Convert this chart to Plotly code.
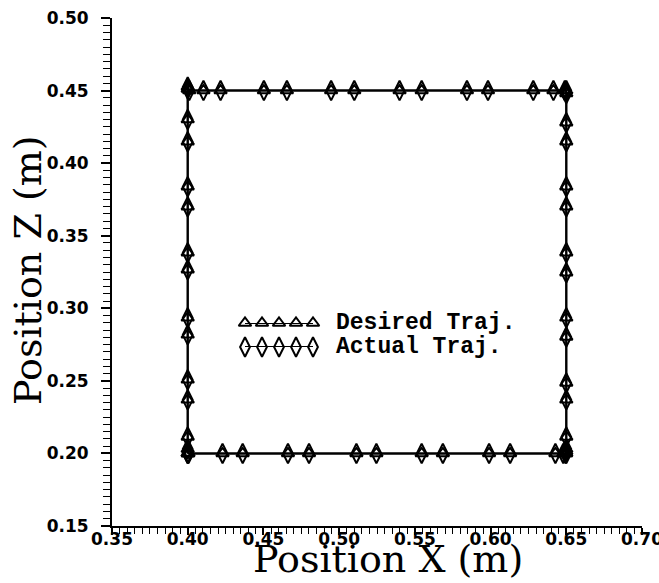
import plotly.graph_objects as go

# Desired trajectory (m): bottom edge -> right edge -> top edge -> left edge
DESIRED_X = [0.4000, 0.4005, 0.4230, 0.4363, 0.4662, 0.4801, 0.5114, 0.5246, 0.5545, 0.5685, 0.5990, 0.6129, 0.6428, 0.6480, 0.6495,
             0.6500, 0.6500, 0.6500, 0.6500, 0.6500, 0.6500, 0.6500, 0.6500, 0.6500, 0.6500, 0.6500, 0.6500, 0.6500, 0.6500, 0.6500,
             0.6500, 0.6490, 0.6415, 0.6282, 0.5983, 0.5844, 0.5545, 0.5399, 0.5100, 0.4947, 0.4655, 0.4503, 0.4217, 0.4104, 0.4010,
             0.4000, 0.4000, 0.4000, 0.4000, 0.4000, 0.4000, 0.4000, 0.4000, 0.4000, 0.4000, 0.4000, 0.4000, 0.4000, 0.4000, 0.4000]
DESIRED_Z = [0.2000, 0.2000, 0.2000, 0.2000, 0.2000, 0.2000, 0.2000, 0.2000, 0.2000, 0.2000, 0.2000, 0.2000, 0.2000, 0.2000, 0.2000,
             0.2000, 0.2015, 0.2030, 0.2114, 0.2369, 0.2486, 0.2803, 0.2934, 0.3245, 0.3383, 0.3700, 0.3838, 0.4148, 0.4279, 0.4480,
             0.4500, 0.4500, 0.4500, 0.4500, 0.4500, 0.4500, 0.4500, 0.4500, 0.4500, 0.4500, 0.4500, 0.4500, 0.4500, 0.4500, 0.4500,
             0.4525, 0.4510, 0.4300, 0.4148, 0.3838, 0.3700, 0.3383, 0.3266, 0.2934, 0.2817, 0.2507, 0.2369, 0.2114, 0.2030, 0.2000]

# Actual trajectory (m)
ACTUAL_X = [0.4000, 0.4005, 0.4230, 0.4363, 0.4662, 0.4801, 0.5114, 0.5246, 0.5545, 0.5685, 0.5990, 0.6129, 0.6428, 0.6480, 0.6495,
            0.6500, 0.6500, 0.6500, 0.6500, 0.6500, 0.6500, 0.6500, 0.6500, 0.6500, 0.6500, 0.6500, 0.6500, 0.6500, 0.6500, 0.6500,
            0.6500, 0.6490, 0.6415, 0.6282, 0.5983, 0.5844, 0.5545, 0.5399, 0.5100, 0.4947, 0.4655, 0.4503, 0.4217, 0.4104, 0.4010,
            0.4000, 0.4000, 0.4000, 0.4000, 0.4000, 0.4000, 0.4000, 0.4000, 0.4000, 0.4000, 0.4000, 0.4000, 0.4000, 0.4000, 0.4000]
ACTUAL_Z = [0.2000, 0.2000, 0.2000, 0.2000, 0.2000, 0.2000, 0.2000, 0.2000, 0.2000, 0.2000, 0.2000, 0.2000, 0.2000, 0.2000, 0.2000,
            0.2000, 0.2015, 0.2030, 0.2114, 0.2369, 0.2486, 0.2803, 0.2934, 0.3245, 0.3383, 0.3700, 0.3838, 0.4148, 0.4279, 0.4480,
            0.4500, 0.4500, 0.4500, 0.4500, 0.4500, 0.4500, 0.4500, 0.4500, 0.4500, 0.4500, 0.4500, 0.4500, 0.4500, 0.4500, 0.4500,
            0.4525, 0.4510, 0.4300, 0.4148, 0.3838, 0.3700, 0.3383, 0.3266, 0.2934, 0.2817, 0.2507, 0.2369, 0.2114, 0.2030, 0.2000]

SERIES_NAMES = ["Desired Traj.", "Actual Traj."]
X_TICKS = [0.35, 0.40, 0.45, 0.50, 0.55, 0.60, 0.65, 0.70]
Z_TICKS = [0.15, 0.20, 0.25, 0.30, 0.35, 0.40, 0.45, 0.50]
LEGEND_KEY_STEPS = [0, 1, 2, 3, 4]

X_TITLE = "Position X (m)"
Z_TITLE = "Position Z (m)"

BLACK = "#000000"
tick_font = dict(family="DejaVu Sans", size=17, color=BLACK, weight="bold")
title_font = dict(family="DejaVu Serif", size=38, color=BLACK)
legend_font = dict(family="Liberation Mono", size=23, color=BLACK, weight="bold")

TRI = dict(symbol="triangle-up-open", size=11, color=BLACK, line=dict(width=2, color=BLACK))
DIA = dict(symbol="diamond-tall-open", size=14, color=BLACK, line=dict(width=2, color=BLACK))
LINE = dict(color=BLACK, width=2)

fig = go.Figure()

fig.add_trace(go.Scatter(
    x=DESIRED_X, y=DESIRED_Z, mode="lines+markers", name=SERIES_NAMES[0],
    line=LINE, marker=TRI, cliponaxis=False, showlegend=False,
))
fig.add_trace(go.Scatter(
    x=ACTUAL_X, y=ACTUAL_Z, mode="lines+markers", name=SERIES_NAMES[1],
    line=LINE, marker=DIA, cliponaxis=False, showlegend=False,
))

# Custom legend keys (five markers on a line, as in the original)
L, R, T, B = 112, 17, 18, 57
W, H = 659, 583
pw, ph = W - L - R, H - T - B
def px_x(p):
    return (p - L) / pw
def px_y(p):
    return 1 - (p - T) / ph

fig.add_trace(go.Scatter(
    x=LEGEND_KEY_STEPS, y=[1] * len(LEGEND_KEY_STEPS), xaxis="x2", yaxis="y2", mode="lines+markers",
    line=LINE, marker=TRI, cliponaxis=False, showlegend=False, hoverinfo="skip",
))
fig.add_trace(go.Scatter(
    x=LEGEND_KEY_STEPS, y=[0] * len(LEGEND_KEY_STEPS), xaxis="x2", yaxis="y2", mode="lines+markers",
    line=LINE, marker=DIA, cliponaxis=False, showlegend=False, hoverinfo="skip",
))

axis_common = dict(
    showgrid=False, zeroline=False, showline=True, linecolor=BLACK, linewidth=2,
    ticks="outside", tickwidth=1.6, tickcolor=BLACK, tickfont=tick_font,
    mirror=False, ticklabeloverflow="allow",
)

fig.update_layout(
    width=W, height=H,
    margin=dict(l=L, r=R, t=T, b=B, autoexpand=False),
    paper_bgcolor="white", plot_bgcolor="white",
    xaxis=dict(range=[0.35, 0.70], tickvals=X_TICKS, ticktext=[f"{v:.2f}" for v in X_TICKS], ticklen=7,
               minor=dict(dtick=0.005, ticklen=6, tickwidth=1.4, tickcolor=BLACK, ticks="outside"),
               ticklabelstandoff=-10, **axis_common),
    yaxis=dict(range=[0.15, 0.50], tickvals=Z_TICKS, ticktext=[f"{v:.2f}" for v in Z_TICKS], ticklen=9,
               minor=dict(dtick=0.005, ticklen=7, tickwidth=1.4, tickcolor=BLACK, ticks="outside"),
               ticklabelstandoff=9, **axis_common),
    xaxis2=dict(domain=[px_x(245), px_x(313)], range=[0, 4], visible=False, anchor="y2"),
    yaxis2=dict(domain=[px_y(347), px_y(323)], range=[0, 1], visible=False, anchor="x2"),
    showlegend=False,
)

annotations = [
    dict(text=SERIES_NAMES[0], xref="paper", yref="paper", x=px_x(334), y=px_y(323),
         xanchor="left", yanchor="middle", showarrow=False, font=legend_font),
    dict(text=SERIES_NAMES[1], xref="paper", yref="paper", x=px_x(334), y=px_y(347),
         xanchor="left", yanchor="middle", showarrow=False, font=legend_font),
    dict(text=X_TITLE, xref="paper", yref="paper", x=px_x(388), y=px_y(583),
         xanchor="center", yanchor="bottom", showarrow=False, font=title_font),
    dict(text=Z_TITLE, xref="paper", yref="paper", x=px_x(4), y=px_y(270),
         xanchor="left", yanchor="middle", showarrow=False, font=title_font, textangle=-90),
]
fig.update_layout(annotations=annotations)

fig.write_html("out.html", config={"displayModeBar": False},
               post_script="document.body.style.margin='0';document.body.style.padding='0';")
